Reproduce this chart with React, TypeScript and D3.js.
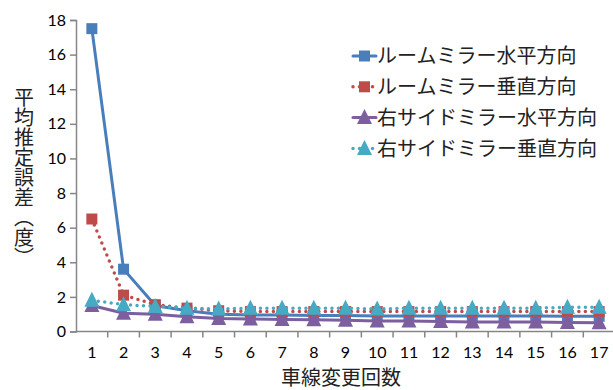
import { useEffect, useRef } from 'react'
import * as d3 from 'd3'

const W = 613
const H = 390

const categories = ['1', '2', '3', '4', '5', '6', '7', '8', '9', '10', '11', '12', '13', '14', '15', '16', '17']
const yTicks = [0, 2, 4, 6, 8, 10, 12, 14, 16, 18]

const roomH = [17.5, 3.6, 1.5, 1.2, 1.0, 0.95, 0.95, 0.92, 0.92, 0.9, 0.9, 0.9, 0.9, 0.9, 0.9, 0.88, 0.88]
const roomV = [6.5, 2.1, 1.55, 1.35, 1.2, 1.15, 1.15, 1.15, 1.15, 1.15, 1.15, 1.15, 1.15, 1.15, 1.15, 1.15, 1.15]
const sideH = [1.5, 1.05, 1.0, 0.85, 0.75, 0.72, 0.7, 0.68, 0.65, 0.6, 0.6, 0.58, 0.55, 0.55, 0.55, 0.52, 0.5]
const sideV = [1.8, 1.55, 1.45, 1.35, 1.3, 1.35, 1.35, 1.35, 1.35, 1.3, 1.35, 1.35, 1.35, 1.35, 1.35, 1.4, 1.4]

const seriesNames = ['ルームミラー水平方向', 'ルームミラー垂直方向', '右サイドミラー水平方向', '右サイドミラー垂直方向']
const yTitle = '平均推定誤差（度）'
const xTitle = '車線変更回数'

const SERIES = [
  { name: seriesNames[0], values: roomH, color: '#4A7EBB', dotted: false, marker: 'square' },
  { name: seriesNames[1], values: roomV, color: '#BE4B48', dotted: true, marker: 'square' },
  { name: seriesNames[2], values: sideH, color: '#7D5FA0', dotted: false, marker: 'triangle' },
  { name: seriesNames[3], values: sideV, color: '#46AAC5', dotted: true, marker: 'triangle' },
]

const AXIS = '#868686'
const NUM_FONT = 'Lato, "Open Sans", sans-serif'
const JP_FONT = '"Noto Sans CJK JP", sans-serif'

function drawMarker(g: any, kind: string, x: number, y: number, color: string) {
  if (kind === 'square') {
    g.append('rect')
      .attr('x', x - 5.5).attr('y', y - 5.5)
      .attr('width', 11).attr('height', 11)
      .attr('fill', color)
  } else {
    g.append('path')
      .attr('d', `M${x},${y - 8.5}L${x + 7.5},${y + 6.5}L${x - 7.5},${y + 6.5}Z`)
      .attr('fill', color)
  }
}

export default function App() {
  const svgRef = useRef<SVGSVGElement>(null)

  useEffect(() => {
    const svg = d3.select(svgRef.current)
    svg.selectAll('*').remove()

    const x = d3.scaleBand().domain(categories).range([76, 615]).padding(0)
    const y = d3.scaleLinear().domain([0, 18]).range([331.5, 20])
    const cx = (c: string) => (x(c) as number) + x.bandwidth() / 2

    // y axis
    const gy = svg.append('g').attr('transform', 'translate(76,0)')
      .call(d3.axisLeft(y).tickValues(yTicks).tickSize(6).tickPadding(4))
    gy.select('.domain').attr('stroke', AXIS).attr('stroke-width', 1.5)
    gy.selectAll('line').attr('stroke', AXIS).attr('stroke-width', 1.5)
    gy.selectAll('text').attr('fill', '#000').attr('font-size', '16px').attr('font-family', NUM_FONT)

    // x axis, ticks between categories
    const gx = svg.append('g').attr('transform', `translate(0,${y(0)})`)
    gx.append('line').attr('x1', 76).attr('x2', 615).attr('stroke', AXIS).attr('stroke-width', 1.5)
    categories.forEach(c => {
      const bx = (x(c) as number) + x.bandwidth()
      gx.append('line').attr('x1', bx).attr('x2', bx).attr('y1', 0).attr('y2', 6)
        .attr('stroke', AXIS).attr('stroke-width', 1.5)
      gx.append('text').attr('x', cx(c)).attr('y', 26)
        .attr('text-anchor', 'middle').attr('font-size', '16px').attr('font-family', NUM_FONT)
        .text(c)
    })

    // series
    SERIES.forEach(s => {
      const line = d3.line<number>()
        .x((_, i) => cx(categories[i]))
        .y(d => y(d))
      svg.append('path')
        .datum(s.values)
        .attr('fill', 'none')
        .attr('stroke', s.color)
        .attr('stroke-width', s.dotted ? 3.5 : 3)
        .attr('stroke-linecap', 'round')
        .attr('stroke-dasharray', s.dotted ? '0 6.5' : null)
        .attr('d', line)
      const gm = svg.append('g')
      s.values.forEach((v, i) => drawMarker(gm, s.marker, cx(categories[i]), y(v), s.color))
    })

    // legend
    const lg = svg.append('g')
    SERIES.forEach((s, i) => {
      const ly = 56 + i * 30.8
      lg.append('line').attr('x1', 353).attr('x2', 376).attr('y1', ly).attr('y2', ly)
        .attr('stroke', s.color).attr('stroke-width', s.dotted ? 3.5 : 3)
        .attr('stroke-linecap', 'round')
        .attr('stroke-dasharray', s.dotted ? '0 6.5' : null)
      drawMarker(lg, s.marker, 364.5, ly, s.color)
      lg.append('text').attr('x', 377).attr('y', ly).attr('dy', '0.36em')
        .attr('font-size', '20px').attr('font-family', JP_FONT).attr('fill', '#222')
        .text(s.name)
    })

    // titles
    svg.append('text')
      .attr('x', 24).attr('y', 87)
      .style('writing-mode', 'vertical-rl')
      .attr('font-size', '20px').attr('font-family', JP_FONT).attr('fill', '#222')
      .text(yTitle)

    svg.append('text')
      .attr('x', 341).attr('y', 385)
      .attr('text-anchor', 'middle')
      .attr('font-size', '20px').attr('font-family', JP_FONT).attr('fill', '#222')
      .text(xTitle)
  }, [])

  return (
    <div style={{ position: 'fixed', left: 0, top: 0, width: W, height: H, background: '#fff' }}>
      <svg ref={svgRef} width={W} height={H} style={{ display: 'block', overflow: 'hidden' }} />
    </div>
  )
}
